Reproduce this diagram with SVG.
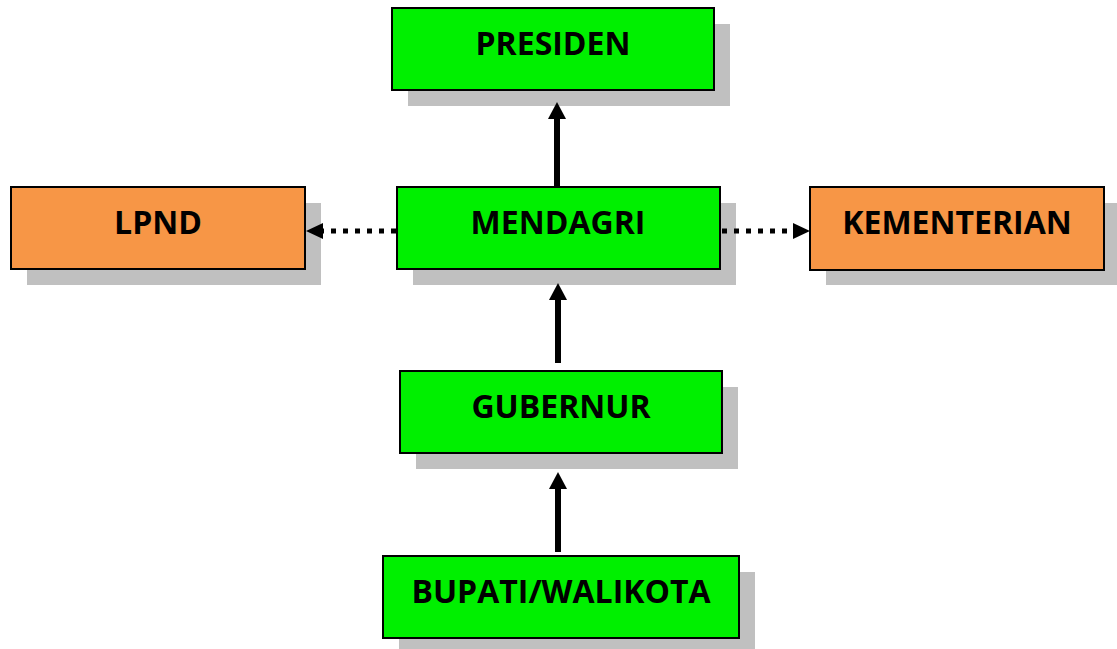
<svg xmlns="http://www.w3.org/2000/svg" width="1117" height="649" viewBox="0 0 1117 649">
<defs>
<style>
.sh{fill:#c0c0c0}
.g{fill:#00f000;stroke:#000;stroke-width:2}
.o{fill:#f79646;stroke:#000;stroke-width:2}
.t{font-family:"Open Sans","Liberation Sans",sans-serif;font-weight:bold;font-size:32px;fill:#000;text-anchor:middle}
.solid{stroke:#000;stroke-width:6;fill:none}
.dot{stroke:#000;stroke-width:5;stroke-dasharray:5 7;fill:none}
</style>
</defs>
<rect width="1117" height="649" fill="#fff"/>
<g id="presiden">
<rect class="sh" x="408" y="24" width="322" height="82"/>
<rect class="g" x="392" y="8" width="322" height="82"/>
<text class="t" x="553" y="55">PRESIDEN</text>
</g>
<g id="lpnd">
<rect class="sh" x="27" y="203" width="294" height="82"/>
<rect class="o" x="11" y="187" width="294" height="82"/>
<text class="t" x="158" y="234">LPND</text>
</g>
<g id="mendagri">
<rect class="sh" x="413" y="203" width="323" height="82"/>
<rect class="g" x="397" y="187" width="323" height="82"/>
<text class="t" x="558" y="234">MENDAGRI</text>
</g>
<g id="kementerian">
<rect class="sh" x="826" y="203" width="294" height="82"/>
<rect class="o" x="810" y="187" width="294" height="83"/>
<text class="t" x="957" y="234">KEMENTERIAN</text>
</g>
<g id="gubernur">
<rect class="sh" x="416" y="387" width="322" height="82"/>
<rect class="g" x="400" y="371" width="322" height="82"/>
<text class="t" x="561" y="418">GUBERNUR</text>
</g>
<g id="bupati">
<rect class="sh" x="399" y="572" width="356" height="82"/>
<rect class="g" x="383" y="556" width="356" height="82"/>
<text class="t" x="561" y="603">BUPATI/WALIKOTA</text>
</g>
<g id="connectors">
<line class="solid" x1="557" y1="187" x2="557" y2="118"/>
<polygon points="557,102 548,119 566,119" fill="#000"/>
<line class="solid" x1="558" y1="363" x2="558" y2="298"/>
<polygon points="558,283 549,300 567,300" fill="#000"/>
<line class="solid" x1="558" y1="552" x2="558" y2="487"/>
<polygon points="558,472 549,489 567,489" fill="#000"/>
<line class="dot" x1="396" y1="231" x2="322" y2="231"/>
<polygon points="306,231 323,223 323,239" fill="#000"/>
<line class="dot" x1="722" y1="231" x2="794" y2="231"/>
<polygon points="810,231 793,223 793,239" fill="#000"/>
</g>
</svg>
